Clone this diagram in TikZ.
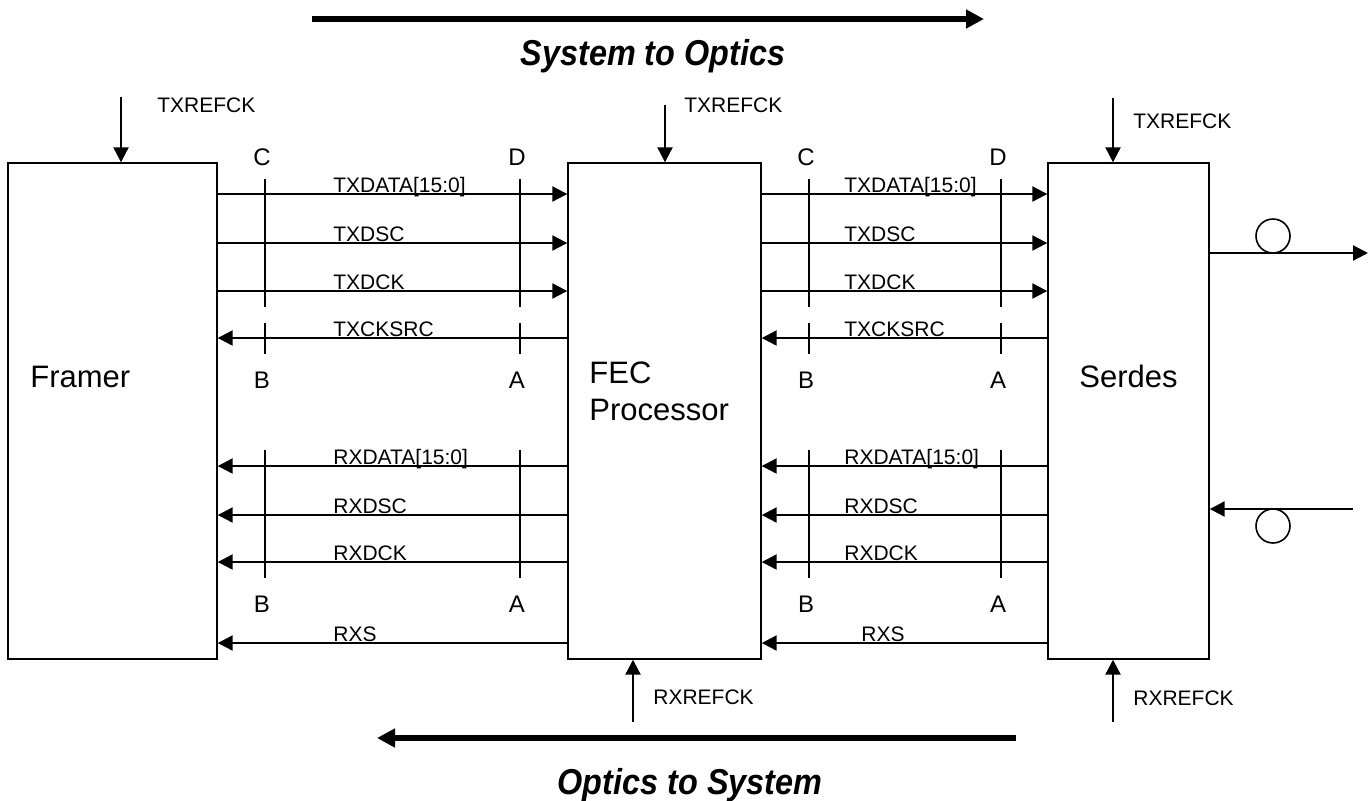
\documentclass[tikz,border=0pt]{standalone}
\usepackage{fontspec}
\setmainfont{Liberation Sans}
\usetikzlibrary{arrows.meta}
\begin{document}
\begin{tikzpicture}[x=0.5pt,y=-0.5pt,
  box/.style={draw,line width=0.7pt,inner sep=0pt,minimum height=248pt},
  sig/.style={line width=1.1pt},
  tick/.style={line width=0.8pt},
  slabel/.style={font=\fontsize{10.5}{12}\selectfont,inner sep=0pt,anchor=base west},
  letter/.style={font=\fontsize{12}{14}\selectfont,inner sep=0pt,anchor=base},
  blabel/.style={font=\fontsize{15.5}{18.5}\selectfont,inner sep=0pt,anchor=base west},
  title/.style={font=\fontsize{18}{20}\selectfont\bfseries\itshape,inner sep=0pt,anchor=base,xscale=0.9},
  bigarrow/.style={line width=3pt,-{Triangle[length=9pt,width=9pt]}},
  fib/.style={draw,circle,line width=0.8pt,minimum size=17pt,inner sep=0pt},
  >={Triangle[length=7.5pt,width=7.5pt]}]

\useasboundingbox (0,0) rectangle (1372,800);

% boxes
\node[box,minimum width=104.5pt] (fr) at (112.5,411) {};
\node[box,minimum width=96.5pt] (fec) at (664.5,411) {};
\node[box,minimum width=80.5pt] (ser) at (1128.5,411) {};

\node[blabel] (frl) at (30,387) {Framer};
\node[blabel] (serl) at (1079,387) {Serdes};
\node[blabel] (fecl1) at (589,383) {FEC};
\node[blabel] (fecl2) at (589,420) {Processor};

% rows
\coordinate (t1) at (0,194);
\coordinate (t2) at (0,243);
\coordinate (t3) at (0,291);
\coordinate (t4) at (0,338);
\coordinate (r1) at (0,466);
\coordinate (r2) at (0,515);
\coordinate (r3) at (0,562);
\coordinate (r4) at (0,643);

% group 1 signals
\draw[sig,->] (fr.east |- t1) -- (fec.west |- t1);
\draw[sig,->] (fr.east |- t2) -- (fec.west |- t2);
\draw[sig,->] (fr.east |- t3) -- (fec.west |- t3);
\draw[sig,->] (fec.west |- t4) -- (fr.east |- t4);
\draw[sig,->] (fec.west |- r1) -- (fr.east |- r1);
\draw[sig,->] (fec.west |- r2) -- (fr.east |- r2);
\draw[sig,->] (fec.west |- r3) -- (fr.east |- r3);
\draw[sig,->] (fec.west |- r4) -- (fr.east |- r4);

% group 2 signals
\draw[sig,->] (fec.east |- t1) -- (ser.west |- t1);
\draw[sig,->] (fec.east |- t2) -- (ser.west |- t2);
\draw[sig,->] (fec.east |- t3) -- (ser.west |- t3);
\draw[sig,->] (ser.west |- t4) -- (fec.east |- t4);
\draw[sig,->] (ser.west |- r1) -- (fec.east |- r1);
\draw[sig,->] (ser.west |- r2) -- (fec.east |- r2);
\draw[sig,->] (ser.west |- r3) -- (fec.east |- r3);
\draw[sig,->] (ser.west |- r4) -- (fec.east |- r4);

% signal labels group 1
\node[slabel] (la1) at (333,192) {TXDATA[15:0]};
\node[slabel] (la2) at (333,241) {TXDSC};
\node[slabel] (la3) at (333,289) {TXDCK};
\node[slabel] (la4) at (333,336) {TXCKSRC};
\node[slabel] (la5) at (333,464) {RXDATA[15:0]};
\node[slabel] (la6) at (333,513) {RXDSC};
\node[slabel] (la7) at (333,560) {RXDCK};
\node[slabel] (la8) at (333,641) {RXS};

% signal labels group 2
\node[slabel] (lb1) at (844,192) {TXDATA[15:0]};
\node[slabel] (lb2) at (844,241) {TXDSC};
\node[slabel] (lb3) at (844,289) {TXDCK};
\node[slabel] (lb4) at (844,336) {TXCKSRC};
\node[slabel] (lb5) at (844,464) {RXDATA[15:0]};
\node[slabel] (lb6) at (844,513) {RXDSC};
\node[slabel] (lb7) at (844,560) {RXDCK};
\node[slabel] (lb8) at (861,641) {RXS};

% reference-point ticks
\foreach \x in {265,520,809,1001} {
  \draw[tick] (\x,179) -- (\x,307);
  \draw[tick] (\x,323) -- (\x,354);
  \draw[tick] (\x,450) -- (\x,578);
}

% reference-point letters
\node[letter] (c1l) at (262,165) {C};
\node[letter] (d1l) at (517,165) {D};
\node[letter] (b1l) at (262,388) {B};
\node[letter] (a1l) at (517,388) {A};
\node[letter] (b2l) at (262,612) {B};
\node[letter] (a2l) at (517,612) {A};
\node[letter] (c3l) at (806,165) {C};
\node[letter] (d3l) at (998,165) {D};
\node[letter] (b3l) at (806,388) {B};
\node[letter] (a3l) at (998,388) {A};
\node[letter] (b4l) at (806,612) {B};
\node[letter] (a4l) at (998,612) {A};

% reference clocks
\coordinate (frck) at (121,97);
\draw[sig,->] (frck) -- (frck |- fr.north);
\node[slabel] (frckl) at (157,112) {TXREFCK};
\coordinate (fecck) at (665,105);
\draw[sig,->] (fecck) -- (fecck |- fec.north);
\node[slabel] (fecckl) at (684,112) {TXREFCK};
\coordinate (serck) at (1113,98);
\draw[sig,->] (serck) -- (serck |- ser.north);
\node[slabel] (serckl) at (1133,128) {TXREFCK};
\coordinate (fecrx) at (633,722);
\draw[sig,->] (fecrx) -- (fecrx |- fec.south);
\node[slabel] (fecrxl) at (653,704) {RXREFCK};
\coordinate (serrx) at (1113,722);
\draw[sig,->] (serrx) -- (serrx |- ser.south);
\node[slabel] (serrxl) at (1133,705) {RXREFCK};

% optical fibres
\coordinate (fout) at (1368,253);
\draw[sig,->] (ser.east |- fout) -- (fout);
\node[fib] (loop1) at (1273,236) {};
\coordinate (fin) at (1353,509);
\draw[sig,->] (fin) -- (ser.east |- fin);
\node[fib] (loop2) at (1273,526) {};

% direction arrows
\coordinate (a1s) at (312,19);
\coordinate (a1e) at (984,19);
\draw[bigarrow] (a1s) -- (a1e);
\node[title] (t1l) at (653,65) {System to Optics};
\coordinate (a2s) at (1016,738);
\coordinate (a2e) at (377,738);
\draw[bigarrow] (a2s) -- (a2e);
\node[title] (t2l) at (690,794) {Optics to System};
\end{tikzpicture}
\end{document}
